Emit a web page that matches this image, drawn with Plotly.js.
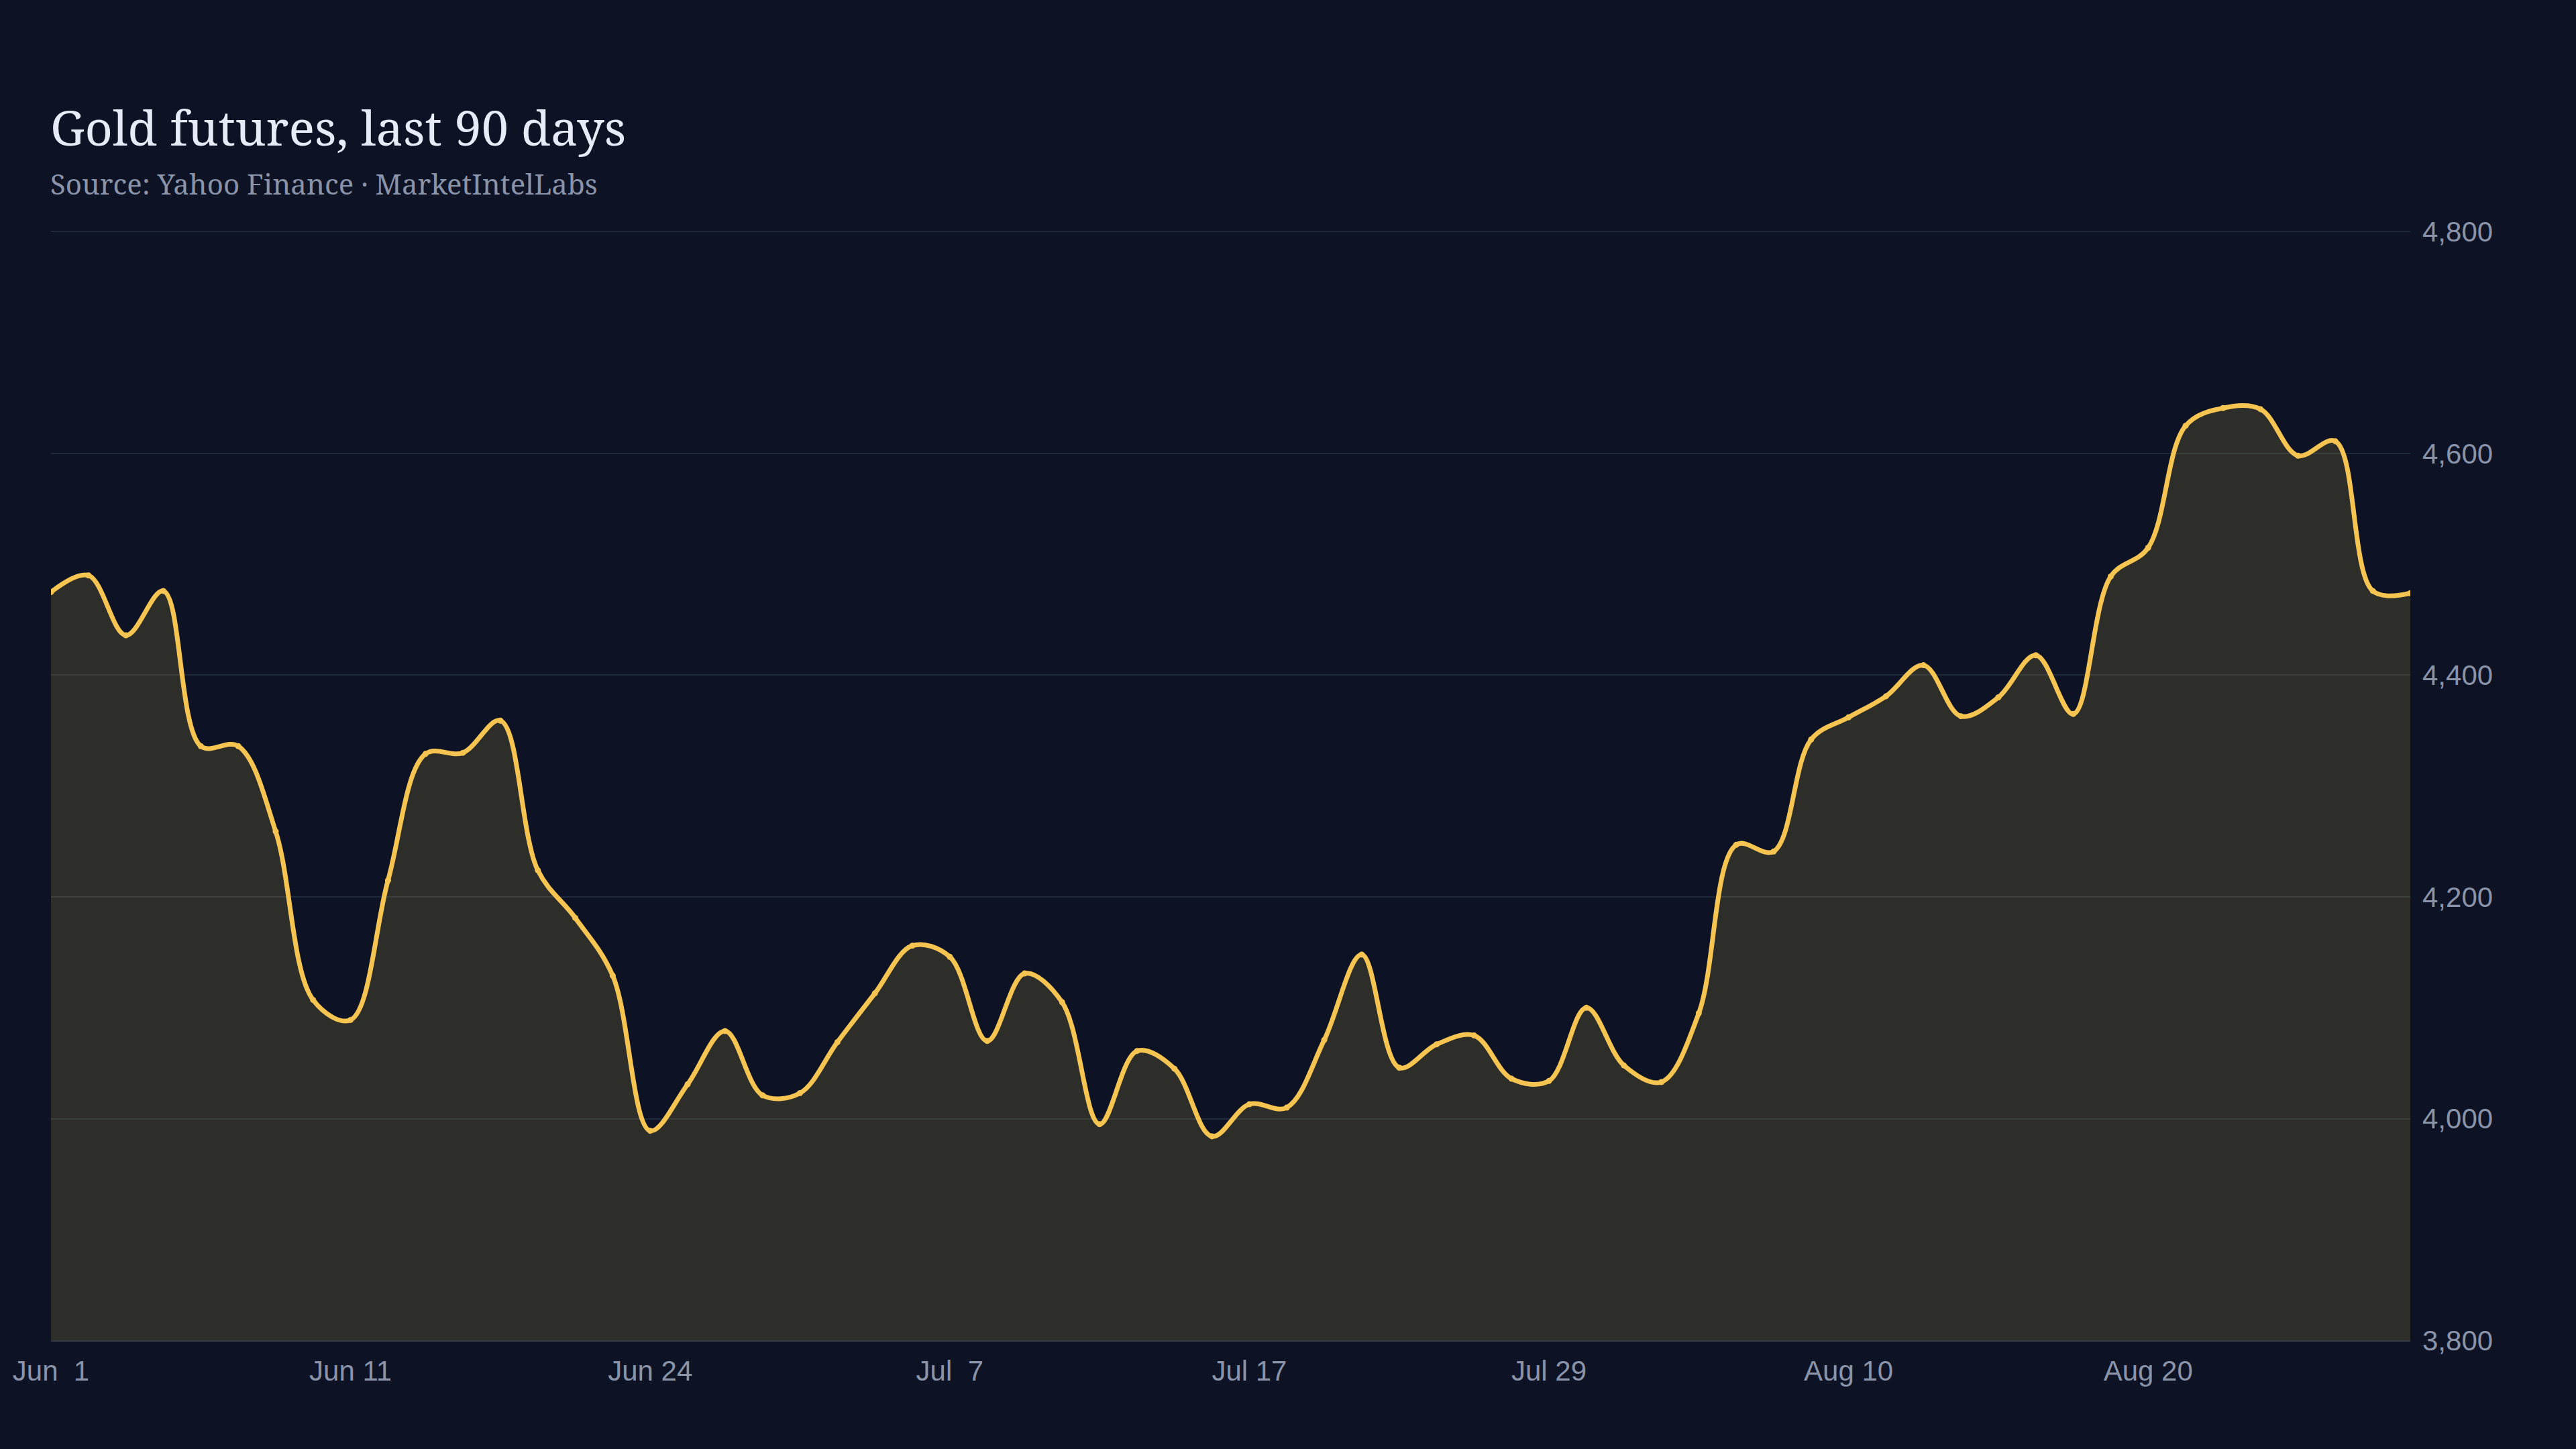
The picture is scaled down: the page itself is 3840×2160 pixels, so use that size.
<!DOCTYPE html>
<html>
<head>
<meta charset="utf-8">
<script src="https://cdn.plot.ly/plotly-3.0.1.min.js"></script>
<style>
  html, body { margin: 0; padding: 0; background: #0d1325; }
  #chart { width: 3840px; height: 2160px; }
</style>
</head>
<body>
<div id="chart"></div>
<script>
// trading days, Jun 1 - Aug 31
const days = [
  "2026-06-01", "2026-06-02", "2026-06-03", "2026-06-04", "2026-06-05",
  "2026-06-08", "2026-06-09", "2026-06-10", "2026-06-11", "2026-06-12",
  "2026-06-15", "2026-06-16", "2026-06-17", "2026-06-18", "2026-06-22",
  "2026-06-23", "2026-06-24", "2026-06-25", "2026-06-26", "2026-06-29",
  "2026-06-30", "2026-07-01", "2026-07-02", "2026-07-06", "2026-07-07",
  "2026-07-08", "2026-07-09", "2026-07-10", "2026-07-13", "2026-07-14",
  "2026-07-15", "2026-07-16", "2026-07-17", "2026-07-20", "2026-07-21",
  "2026-07-22", "2026-07-23", "2026-07-24", "2026-07-27", "2026-07-28",
  "2026-07-29", "2026-07-30", "2026-07-31", "2026-08-03", "2026-08-04",
  "2026-08-05", "2026-08-06", "2026-08-07", "2026-08-10", "2026-08-11",
  "2026-08-12", "2026-08-13", "2026-08-14", "2026-08-17", "2026-08-18",
  "2026-08-19", "2026-08-20", "2026-08-21", "2026-08-24", "2026-08-25",
  "2026-08-26", "2026-08-27", "2026-08-28", "2026-08-31"
];

const closes = [
  4475, 4490, 4436, 4476, 4336, 4336, 4259, 4107, 4089, 4215,
  4329, 4330, 4359, 4224, 4181, 4129, 3989, 4031, 4079, 4021,
  4023, 4069, 4113, 4156, 4146, 4070, 4131, 4105, 3995, 4061,
  4045, 3984, 4013, 4010, 4071, 4148, 4046, 4067, 4075, 4036,
  4034, 4100, 4048, 4033, 4095, 4247, 4241, 4342, 4362, 4381,
  4409, 4363, 4380, 4418, 4365, 4489, 4515, 4625, 4641, 4640,
  4598, 4611, 4476, 4474
];

const tick_days = ["2026-06-01", "2026-06-11", "2026-06-24", "2026-07-07",
                   "2026-07-17", "2026-07-29", "2026-08-10", "2026-08-20"];
const tick_labels = ["Jun\u00a0\u00a01", "Jun 11", "Jun 24", "Jul\u00a0\u00a07",
                     "Jul 17", "Jul 29", "Aug 10", "Aug 20"];

const price_ticks = [3800, 4000, 4200, 4400, 4600, 4800];

const bg = '#0d1325';
const gold = '#f5c451';
const muted = '#8a93a8';
const serif = 'Noto Serif, Liberation Serif, serif';

var gold_trace = {
    x: days,
    y: closes,
    type: 'scatter',
    mode: 'lines+markers',
    line: { color: gold, width: 7, shape: 'spline', smoothing: 1 },
    marker: { color: gold, size: 9 },
    fill: 'tozeroy',
    fillcolor: 'rgba(226,192,77,0.15)',
    hoverinfo: 'skip'
};

var layout = {
    width: 3840,
    height: 2160,
    paper_bgcolor: bg,
    plot_bgcolor: bg,
    margin: { l: 76, r: 247, t: 343, b: 162 },
    showlegend: false,
    font: { family: 'Liberation Sans, Arial, sans-serif', color: muted, size: 42 },
    annotations: [
        {
            text: 'Gold futures, last 90 days',
            font: { family: serif, size: 72, color: '#e6ebf7' },
            xref: 'paper', yref: 'paper',
            x: 0, y: 1.093, xshift: -3,
            xanchor: 'left', yanchor: 'middle',
            showarrow: false
        },
        {
            text: 'Source: Yahoo Finance · MarketIntelLabs',
            font: { family: serif, size: 42, color: muted },
            xref: 'paper', yref: 'paper',
            x: 0, y: 1.042, xshift: -3,
            xanchor: 'left', yanchor: 'middle',
            showarrow: false
        }
    ],
    xaxis: {
        type: 'category',
        range: [0, days.length - 1],
        tickvals: tick_days,
        ticktext: tick_labels,
        showgrid: false,
        showline: true,
        linecolor: '#333a46',
        linewidth: 2,
        ticks: '',
        ticklabelstandoff: 8,
        tickfont: { size: 42, color: muted }
    },
    yaxis: {
        side: 'right',
        // a hair above 4,800 so the top gridline is kept
        range: [3800, 4801.5],
        tickvals: price_ticks,
        tickformat: ',d',
        gridcolor: '#1e2a3b',
        gridwidth: 2,
        zeroline: false,
        showline: false,
        ticks: '',
        ticklabelstandoff: 17,
        tickfont: { size: 42, color: muted }
    }
};

Plotly.newPlot(document.getElementById('chart'), [gold_trace], layout, { displayModeBar: false, staticPlot: true });
</script>
</body>
</html>
